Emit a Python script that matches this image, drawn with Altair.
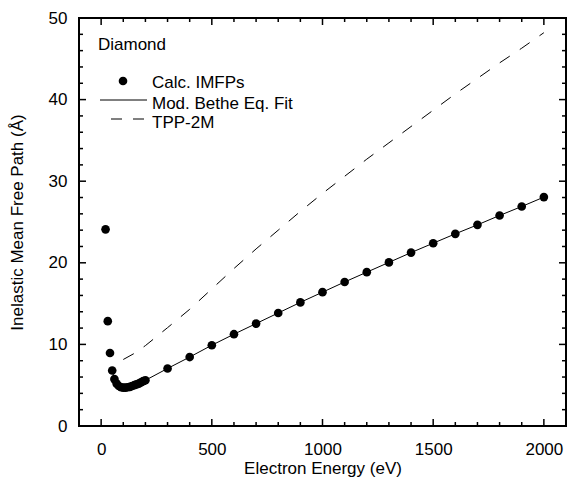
import altair as alt
import pandas as pd

# ---- data ----
calc_E = [20, 30, 40, 50, 60, 70, 80, 90, 100, 110, 120, 130, 140, 150, 160, 170, 180, 190, 200,
          300, 400, 500, 600, 700, 800, 900, 1000, 1100, 1200, 1300, 1400, 1500, 1600, 1700, 1800, 1900, 2000]
calc_L = [24.1, 12.85, 8.95, 6.8, 5.75, 5.2, 4.9, 4.75, 4.7, 4.7, 4.75, 4.8, 4.9, 5.0, 5.1, 5.2, 5.35, 5.5, 5.6,
          7.05, 8.45, 9.9, 11.25, 12.55, 13.85, 15.15, 16.4, 17.65, 18.85, 20.05, 21.25, 22.4, 23.55, 24.65, 25.8, 26.9, 28.05]

fit_E = [50, 60, 70, 80, 90, 100, 110, 120, 130, 140, 150, 160, 170, 180, 190, 200,
         300, 400, 500, 600, 700, 800, 900, 1000, 1100, 1200, 1300, 1400, 1500, 1600, 1700, 1800, 1900, 2000]
fit_L = [6.8, 5.75, 5.2, 4.9, 4.75, 4.7, 4.7, 4.75, 4.8, 4.9, 5.0, 5.1, 5.2, 5.35, 5.5, 5.6,
         7.05, 8.45, 9.9, 11.25, 12.55, 13.85, 15.15, 16.4, 17.65, 18.85, 20.05, 21.25, 22.4, 23.55, 24.65, 25.8, 26.9, 28.05]

tpp_E = [100, 150, 200, 300, 400, 500, 600, 700, 800, 900, 1000, 1100, 1200, 1300, 1400, 1500,
         1600, 1700, 1800, 1900, 2000]
tpp_L = [8.15, 8.9, 9.85, 12.05, 14.3, 16.8, 19.3, 21.7, 24.0, 26.3, 28.5, 30.6, 32.7, 34.7, 36.7, 38.7,
         40.7, 42.6, 44.5, 46.3, 48.2]

x_major = [0, 500, 1000, 1500, 2000]
x_minor = [v for v in range(100, 2100, 100) if v % 500 != 0]
y_major = [0, 10, 20, 30, 40, 50]
y_minor = [v for v in range(2, 50, 2) if v % 10 != 0]

W, H = 487, 408
FONT = "Liberation Sans"

xs = alt.Scale(domain=[-100, 2100], nice=False, zero=False)
ys = alt.Scale(domain=[0, 50], nice=False, zero=False)

xaxis = alt.Axis(values=x_major, title="Electron Energy (eV)", ticks=False, domain=False,
                 grid=False, labelPadding=15, titlePadding=3, format="d")
yaxis = alt.Axis(values=y_major, title="Inelastic Mean Free Path (Å)", ticks=False,
                 domain=False, grid=False, labelPadding=12, titlePadding=22)

X = lambda: alt.X("E:Q", scale=xs, axis=xaxis, title="Electron Energy (eV)")
Y = lambda: alt.Y("L:Q", scale=ys, axis=yaxis, title="Inelastic Mean Free Path (Å)")

calc_df = pd.DataFrame({"E": calc_E, "L": calc_L})
fit_df = pd.DataFrame({"E": fit_E, "L": fit_L})
tpp_df = pd.DataFrame({"E": tpp_E, "L": tpp_L})

fit_line = alt.Chart(fit_df).mark_line(color="black", strokeWidth=1).encode(x=X(), y=Y())
tpp_line = alt.Chart(tpp_df).mark_line(color="black", strokeWidth=1, strokeDash=[12, 12]).encode(x=X(), y=Y())
calc_pts = alt.Chart(calc_df).mark_circle(color="black", size=75, opacity=1).encode(x=X(), y=Y())

def xticks(vals, length):
    d = pd.DataFrame({"E": vals})
    b = alt.Chart(d).mark_rule(color="black", strokeWidth=1.5).encode(
        x=X(), y=alt.value(H), y2=alt.value(H - length))
    t = alt.Chart(d).mark_rule(color="black", strokeWidth=1.5).encode(
        x=X(), y=alt.value(0), y2=alt.value(length))
    return [b, t]

def yticks(vals, length):
    d = pd.DataFrame({"L": vals})
    l = alt.Chart(d).mark_rule(color="black", strokeWidth=1.5).encode(
        y=Y(), x=alt.value(0), x2=alt.value(length))
    r = alt.Chart(d).mark_rule(color="black", strokeWidth=1.5).encode(
        y=Y(), x=alt.value(W), x2=alt.value(W - length))
    return [l, r]

ticks = xticks(x_major, 7) + xticks(x_minor, 4) + yticks(y_major, 7) + yticks(y_minor, 4)

# ---- legend (drawn inside the plot) ----
one = pd.DataFrame({"k": [0]})
leg = [
    alt.Chart(one).mark_text(text="Diamond", align="left", baseline="alphabetic", fontSize=17,
                             font=FONT, color="black").encode(x=alt.value(19), y=alt.value(32)),
    alt.Chart(one).mark_circle(color="black", size=75, opacity=1).encode(x=alt.value(44), y=alt.value(63)),
    alt.Chart(one).mark_text(text="Calc. IMFPs", align="left", baseline="alphabetic", fontSize=17,
                             font=FONT, color="black").encode(x=alt.value(73), y=alt.value(70)),
    alt.Chart(one).mark_rule(color="black", strokeWidth=1).encode(
        x=alt.value(21), x2=alt.value(68), y=alt.value(82)),
    alt.Chart(one).mark_text(text="Mod. Bethe Eq. Fit", align="left", baseline="alphabetic", fontSize=17,
                             font=FONT, color="black").encode(x=alt.value(73), y=alt.value(91)),
    alt.Chart(one).mark_rule(color="black", strokeWidth=1, strokeDash=[11, 11]).encode(
        x=alt.value(32), x2=alt.value(66), y=alt.value(101)),
    alt.Chart(one).mark_text(text="TPP-2M", align="left", baseline="alphabetic", fontSize=17,
                             font=FONT, color="black").encode(x=alt.value(73), y=alt.value(110)),
]

chart = alt.layer(fit_line, tpp_line, calc_pts, *ticks, *leg).properties(
    width=W, height=H,
    autosize=alt.AutoSizeParams(type="none"),
    padding={"left": 79, "top": 18, "right": 2, "bottom": 55},
    background="white",
).configure_view(
    stroke="black", strokeWidth=2,
).configure_axis(
    labelFont=FONT, titleFont=FONT, labelFontSize=17, titleFontSize=17,
    labelColor="black", titleColor="black", titleFontWeight="normal",
)

chart.save("out.html", embed_options={"renderer": "svg", "actions": False})
